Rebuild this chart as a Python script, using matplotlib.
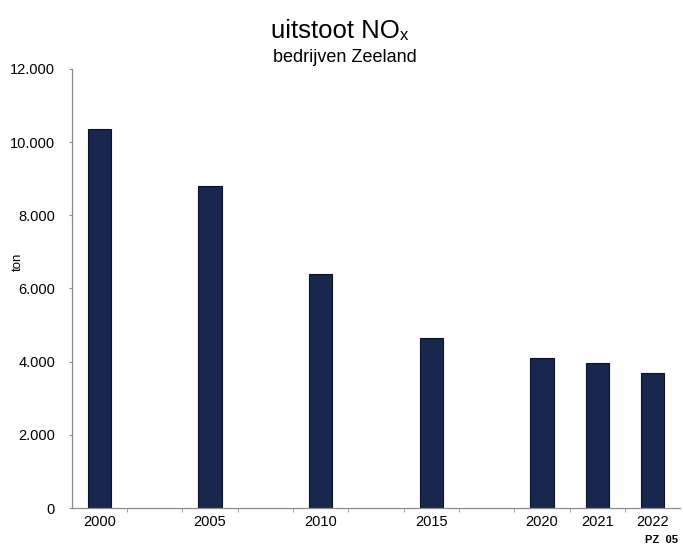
import matplotlib.pyplot as plt
from matplotlib.ticker import FuncFormatter

plt.rcParams['font.family'] = ['Liberation Sans', 'DejaVu Sans']

# NOx-uitstoot bedrijven Zeeland (ton)
jaren = ['2000', '2005', '2010', '2015', '2020', '2021', '2022']
uitstoot = [10350, 8790, 6390, 4640, 4090, 3960, 3690]
# plaats op de as: 5-jaarsstappen krijgen een lege kolom ertussen
posities = [0, 2, 4, 6, 8, 9, 10]

fig = plt.figure(figsize=(6.83, 5.51), dpi=100)
ax = fig.add_axes([0.105, 0.078, 0.891, 0.797])

ax.bar(posities, uitstoot, width=0.42, color='#17274d', edgecolor='#0b1228', linewidth=0.8)

ax.set_xlim(-0.5, 10.5)
ax.set_ylim(0, 12000)
ax.set_yticks(range(0, 12001, 2000))
ax.yaxis.set_major_formatter(FuncFormatter(lambda v, p: f'{int(v):,}'.replace(',', '.')))
ax.set_xticks(posities)
ax.set_xticklabels(jaren)
# kleine streepjes op de kolomgrenzen
ax.set_xticks([p + 0.5 for p in range(10)], minor=True)

for s in ['top', 'right']:
    ax.spines[s].set_visible(False)
for s in ['left', 'bottom']:
    ax.spines[s].set_color('#8c8c8c')
    ax.spines[s].set_linewidth(0.9)

ax.tick_params(axis='y', length=2, color='#8c8c8c', labelsize=10.5, pad=10)
ax.tick_params(axis='x', which='major', length=0, labelsize=10.5, pad=5)
ax.tick_params(axis='x', which='minor', length=3, color='#8c8c8c')

ax.set_ylabel('ton', fontsize=9.5)
ax.yaxis.set_label_coords(-0.078, 0.56)

fig.text(0.585, 0.943, 'uitstoot NO', fontsize=18.5, ha='right', va='center')
fig.text(0.585, 0.936, 'x', fontsize=12, ha='left', va='center')
fig.text(0.505, 0.895, 'bedrijven Zeeland', fontsize=13, ha='center', va='center')
fig.text(0.993, 0.01, 'PZ  05', fontsize=8, fontweight='bold', ha='right', va='bottom')

fig.savefig('out.png', dpi=100)
